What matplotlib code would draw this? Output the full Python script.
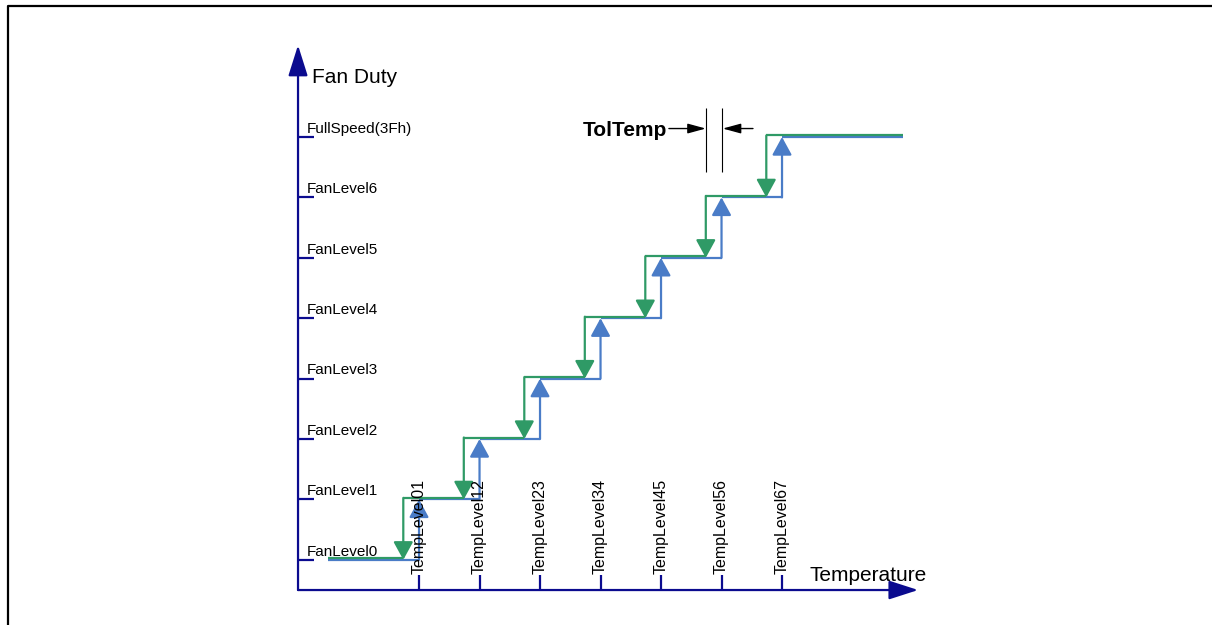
import matplotlib
matplotlib.use("Agg")
import matplotlib.pyplot as plt

plt.rcParams["font.family"] = ["Liberation Sans", "DejaVu Sans"]

# fan duty levels, bottom to top
fan_levels = ["FanLevel0", "FanLevel1", "FanLevel2", "FanLevel3",
              "FanLevel4", "FanLevel5", "FanLevel6", "FullSpeed(3Fh)"]
# rising temperature thresholds between the levels
temp_labels = ["TempLevel01", "TempLevel12", "TempLevel23", "TempLevel34",
               "TempLevel45", "TempLevel56", "TempLevel67"]
temp_points = [2, 3, 4, 5, 6, 7, 8]
tol_temp = 0.26      # hysteresis, falling thresholds = temp - tol
temp_start = 0.5
temp_end = 10.0

blue = "#4a7cc7"
green = "#2f9a66"
navy = "#0b0b8f"

fig = plt.figure(figsize=(12.12, 6.25), dpi=100)
ax = fig.add_axes([0, 0, 1, 1])
ax.set_xlim(-4.926, 15.107)
ax.set_ylim(-1.079, 9.268)
ax.axis("off")

levels = list(range(len(fan_levels)))
axis_y = -0.5

# rising curve (blue)
ax.hlines(levels, [temp_start] + temp_points, temp_points + [temp_end],
          color=blue, lw=1.6, zorder=2)
for i, t in enumerate(temp_points):
    ax.annotate("", xy=(t, i + 1), xytext=(t, i),
                arrowprops=dict(arrowstyle="-|>,head_length=1.1,head_width=0.6",
                                color=blue, lw=1.6, shrinkA=0, shrinkB=0),
                zorder=2)

# falling curve (green)
down_points = [t - tol_temp for t in temp_points]
ax.hlines([l + 0.025 for l in levels], [temp_start] + down_points,
          down_points + [temp_end], color=green, lw=1.6, zorder=3)
for i, t in enumerate(down_points):
    ax.annotate("", xy=(t, i), xytext=(t, i + 1.025),
                arrowprops=dict(arrowstyle="-|>,head_length=1.1,head_width=0.6",
                                color=green, lw=1.6, shrinkA=0, shrinkB=0),
                zorder=3)

# axes with arrows
ax.annotate("", xy=(0, 8.52), xytext=(0, axis_y),
            arrowprops=dict(arrowstyle="-|>,head_length=1.9,head_width=0.6",
                            color=navy, lw=1.6, shrinkA=0, shrinkB=0))
ax.annotate("", xy=(10.25, axis_y), xytext=(0, axis_y),
            arrowprops=dict(arrowstyle="-|>,head_length=1.8,head_width=0.58",
                            color=navy, lw=1.6, shrinkA=0, shrinkB=0))
ax.hlines(levels, 0, 0.26, color=navy, lw=1.6)
ax.vlines(temp_points, axis_y, -0.25, color=navy, lw=1.6)

for i, name in enumerate(fan_levels):
    ax.text(0.14, i + 0.07, name, fontsize=11, ha="left", va="baseline")
for t, name in zip(temp_points, temp_labels):
    ax.text(t, -0.235, name, fontsize=11.5, rotation=90, ha="center",
            va="bottom", zorder=5)

ax.text(0.23, 7.89, "Fan Duty", fontsize=15, ha="left", va="baseline")
ax.text(8.46, -0.35, "Temperature", fontsize=15, ha="left", va="baseline")

# TolTemp marker at TempLevel56
t56 = temp_points[5]
ax.text(4.71, 7.02, "TolTemp", fontsize=15, fontweight="bold",
        ha="left", va="baseline")
ax.vlines([t56 - tol_temp, t56], 6.42, 7.48, color="black", lw=0.8)
ax.annotate("", xy=(t56 - tol_temp, 7.14), xytext=(6.13, 7.14),
            arrowprops=dict(arrowstyle="-|>,head_length=1.1,head_width=0.3",
                            color="black", lw=1.0, shrinkA=0, shrinkB=0))
ax.annotate("", xy=(t56 + 0.02, 7.14), xytext=(7.52, 7.14),
            arrowprops=dict(arrowstyle="-|>,head_length=1.1,head_width=0.3",
                            color="black", lw=1.0, shrinkA=0, shrinkB=0))

# frame around the drawing
ax.plot([7.5 / 1212, 7.5 / 1212, 1.0], [0, 1 - 6 / 625, 1 - 6 / 625],
        color="black", lw=1.6, transform=fig.transFigure, clip_on=False)

fig.savefig("out.png", dpi=100)
